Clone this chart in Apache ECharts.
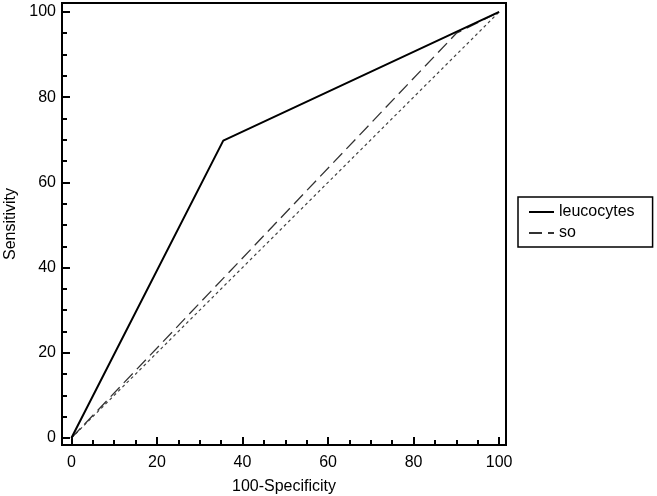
<!DOCTYPE html>
<html>
<head>
<meta charset="utf-8">
<script src="https://cdn.jsdelivr.net/npm/echarts@6/dist/echarts.min.js"></script>
<style>
  html, body { margin: 0; padding: 0; background: #fff; }
  #rocChart { width: 657px; height: 496px; }
</style>
</head>
<body>
<div id="rocChart"></div>
<script>
// ROC curves: x = 100-Specificity, y = Sensitivity
const leucocytesX = [0, 35.5, 100];
const leucocytesY = [0, 69.8, 100];
const soX = [0, 90, 100];
const soY = [0, 95, 100];
const diagonalX = [0, 100];
const diagonalY = [0, 100];

const majorTicks = [0, 20, 40, 60, 80, 100];
const minorTicks = [5, 10, 15, 25, 30, 35, 45, 50, 55, 65, 70, 75, 85, 90, 95];

const toPairs = (xs, ys) => xs.map((x, i) => [x, ys[i]]);

const fontFamily = "'Liberation Sans', Arial, sans-serif";
const xRange = { min: -2.2, max: 101.6 };
const yRange = { min: -1.65, max: 102.1 };

const drawRocChart = () => {
  let myChart = echarts.init(document.getElementById("rocChart"));
  let option = {
    animation: false,
    grid: {
      left: 62,
      right: 151,
      top: 3,
      bottom: 51,
      outerBoundsMode: "none",
      containLabel: false,
      show: true,
      borderColor: "#000",
      borderWidth: 2,
      backgroundColor: "#fff"
    },
    legend: {
      data: ["leucocytes", "so"],
      orient: "vertical",
      left: 518,
      top: 197,
      itemWidth: 25,
      itemHeight: 10,
      itemGap: 5,
      padding: [7, 18, 6, 10],
      borderColor: "#000",
      borderWidth: 1.5,
      itemStyle: { opacity: 0 },
      textStyle: { fontFamily, fontSize: 16, color: "#000" }
    },
    xAxis: [
      {
        type: "value",
        ...xRange,
        name: "100-Specificity",
        nameLocation: "middle",
        nameGap: 34,
        nameTextStyle: { fontFamily, fontSize: 16, color: "#000" },
        axisLine: { show: false, onZero: false },
        splitLine: { show: false },
        axisTick: { inside: true, length: 8, customValues: majorTicks, lineStyle: { color: "#000", width: 2 } },
        axisLabel: { customValues: majorTicks, margin: 10, fontFamily, fontSize: 16, color: "#000" }
      },
      {
        type: "value",
        ...xRange,
        position: "bottom",
        axisLine: { show: false, onZero: false },
        splitLine: { show: false },
        axisLabel: { show: false },
        axisTick: { inside: true, length: 5, customValues: minorTicks, lineStyle: { color: "#000", width: 2 } }
      }
    ],
    yAxis: [
      {
        type: "value",
        ...yRange,
        name: "Sensitivity",
        nameLocation: "middle",
        nameGap: 41,
        nameTextStyle: { fontFamily, fontSize: 16, color: "#000" },
        axisLine: { show: false, onZero: false },
        splitLine: { show: false },
        axisTick: { inside: true, length: 8, customValues: majorTicks, lineStyle: { color: "#000", width: 2 } },
        axisLabel: { customValues: majorTicks, margin: 6, fontFamily, fontSize: 16, color: "#000" }
      },
      {
        type: "value",
        ...yRange,
        position: "left",
        axisLine: { show: false, onZero: false },
        splitLine: { show: false },
        axisLabel: { show: false },
        axisTick: { inside: true, length: 5, customValues: minorTicks, lineStyle: { color: "#000", width: 2 } }
      }
    ],
    series: [
      {
        name: "diagonal",
        type: "line",
        symbol: "none",
        silent: true,
        lineStyle: { color: "#444", width: 1.2, type: [3, 3] },
        data: toPairs(diagonalX, diagonalY)
      },
      {
        name: "so",
        type: "line",
        symbol: "none",
        itemStyle: { color: "#333" },
        lineStyle: { color: "#333", width: 1.3, type: [13, 6] },
        data: toPairs(soX, soY)
      },
      {
        name: "leucocytes",
        type: "line",
        symbol: "none",
        itemStyle: { color: "#000" },
        lineStyle: { color: "#000", width: 2 },
        data: toPairs(leucocytesX, leucocytesY)
      }
    ]
  };
  myChart.setOption(option);
};

drawRocChart();
</script>
</body>
</html>
